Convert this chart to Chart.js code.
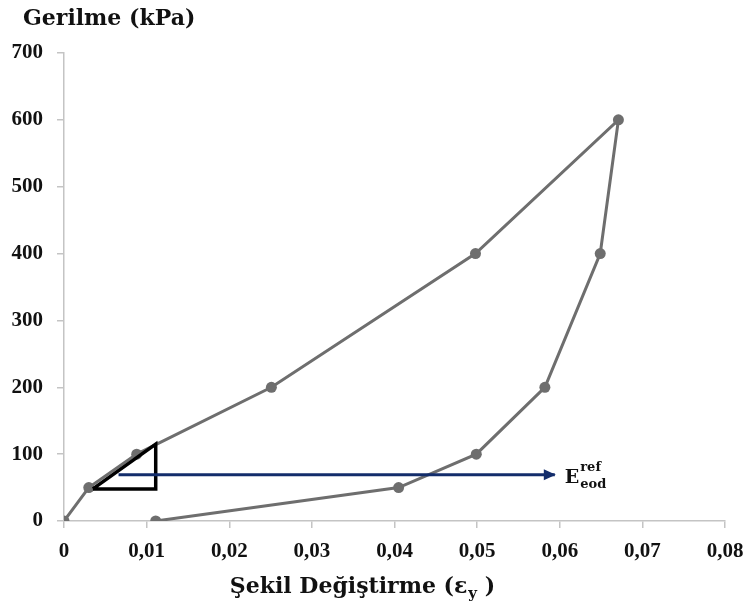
<!DOCTYPE html>
<html>
<head>
<meta charset="utf-8">
<script src="https://cdn.jsdelivr.net/npm/chart.js@4"></script>
<style>
  html, body { margin: 0; padding: 0; background: #fff; }
  #wrap { width: 748px; height: 607px; }
</style>
</head>
<body>
<div id="wrap"><canvas id="chart" width="748" height="607"></canvas></div>
<script>
// values
const strainVals = [0, 0.003, 0.0088, 0.0251, 0.0498, 0.0671, 0.0649, 0.0582, 0.0499, 0.0405, 0.0111];
const stressVals = [0, 50, 100, 200, 400, 600, 400, 200, 100, 50, 0];

// slope triangle
const triX = [0.0035, 0.0111, 0.0111, 0.0035];
const triY = [48, 115, 48, 48];

// arrow pointing to E_eod^ref
const arrowX = [0.0066, 0.0594];
const arrowY = [69, 69];

const xTicks = [0, 0.01, 0.02, 0.03, 0.04, 0.05, 0.06, 0.07, 0.08];
const yTicks = [0, 100, 200, 300, 400, 500, 600, 700];

const serif = "'Liberation Serif', 'Times New Roman', serif";
const wide = "'DejaVu Serif', serif";
const lineGray = "#6e6e6e";
const axisGray = "#c4c4c4";
const navy = "#132d6b";

function toPts(xs, ys) {
  return xs.map((x, i) => ({ x: x, y: ys[i] }));
}

// font size that makes text roughly the given width
function fitSize(ctx, text, target) {
  ctx.font = "bold 20px " + wide;
  return 20 * target / ctx.measureText(text).width;
}

const textPlugin = {
  id: "extraText",
  afterDraw(chart) {
    const ctx = chart.ctx;
    const xs = chart.scales.x, ys = chart.scales.y;
    ctx.save();
    ctx.fillStyle = "#111";
    ctx.textBaseline = "alphabetic";

    // y title
    const fs = Math.min(22, fitSize(ctx, "Gerilme (kPa)", 177));
    ctx.font = "bold " + fs + "px " + wide;
    ctx.textAlign = "left";
    ctx.fillText("Gerilme (kPa)", 23, 25);

    // x title with subscript
    const big = "bold " + fs + "px " + wide;
    const small = "bold " + Math.round(fs * 0.68) + "px " + wide;
    const main = "Şekil Değiştirme (ε";
    const tail = " )";
    ctx.font = big;
    const w = ctx.measureText(main).width;
    const wt = ctx.measureText(tail).width;
    ctx.font = small;
    const ws = ctx.measureText("y").width;
    const x0 = 362 - (w + ws + wt) / 2;
    ctx.font = big;
    ctx.fillText(main, x0, 593);
    ctx.font = small;
    ctx.fillText("y", x0 + w + 1, 598);
    ctx.font = big;
    ctx.fillText(tail, x0 + w + ws + 1, 593);

    // arrow head
    const ax = xs.getPixelForValue(arrowX[1]);
    const ay = ys.getPixelForValue(arrowY[1]);
    ctx.fillStyle = navy;
    ctx.beginPath();
    ctx.moveTo(ax + 1, ay);
    ctx.lineTo(ax - 11, ay - 5.5);
    ctx.lineTo(ax - 11, ay + 5.5);
    ctx.closePath();
    ctx.fill();

    // E_eod^ref label
    ctx.fillStyle = "#111";
    const lx = ax + 10;
    ctx.font = "bold 19px " + wide;
    ctx.fillText("E", lx, ay + 8);
    const ew = ctx.measureText("E").width;
    ctx.font = "bold 13px " + wide;
    ctx.fillText("ref", lx + ew + 1, ay - 4);
    ctx.fillText("eod", lx + ew + 1, ay + 13);
    ctx.restore();
  }
};

new Chart(document.getElementById("chart"), {
  type: "scatter",
  data: {
    datasets: [
      {
        data: toPts(strainVals, stressVals),
        showLine: true,
        borderColor: lineGray,
        backgroundColor: lineGray,
        borderWidth: 3,
        pointRadius: 5.5,
        pointBorderWidth: 0,
        order: 3
      },
      {
        data: toPts(triX, triY),
        showLine: true,
        borderColor: "#000",
        borderWidth: 3.5,
        pointRadius: 0,
        order: 2
      },
      {
        data: toPts(arrowX, arrowY),
        showLine: true,
        borderColor: navy,
        borderWidth: 3,
        pointRadius: 0,
        order: 1
      }
    ]
  },
  options: {
    responsive: false,
    animation: false,
    layout: { padding: { top: 53, right: 23, left: 0, bottom: 0 } },
    plugins: { legend: { display: false }, tooltip: { enabled: false } },
    scales: {
      x: {
        type: "linear",
        min: 0,
        max: 0.08,
        afterFit(s) { s.height = 86; s.paddingRight = 0; s.paddingLeft = 0; },
        afterBuildTicks(s) { s.ticks = xTicks.map(v => ({ value: v })); },
        grid: { drawOnChartArea: false, drawTicks: true, tickLength: 7, color: axisGray, lineWidth: 1.5 },
        border: { color: axisGray, width: 1.5 },
        ticks: {
          color: "#111",
          padding: 11,
          font: { family: serif, size: 21, weight: "bold" },
          callback: v => v === 0 ? "0" : v.toFixed(2).replace(".", ",")
        }
      },
      y: {
        min: 0,
        max: 700,
        afterFit(s) { s.width = 64; },
        afterBuildTicks(s) { s.ticks = yTicks.map(v => ({ value: v })); },
        grid: { drawOnChartArea: false, drawTicks: true, tickLength: 7, color: axisGray, lineWidth: 1.5 },
        border: { color: axisGray, width: 1.5 },
        ticks: {
          color: "#111",
          padding: 14,
          font: { family: serif, size: 21, weight: "bold" }
        }
      }
    }
  },
  plugins: [textPlugin]
});
</script>
</body>
</html>
